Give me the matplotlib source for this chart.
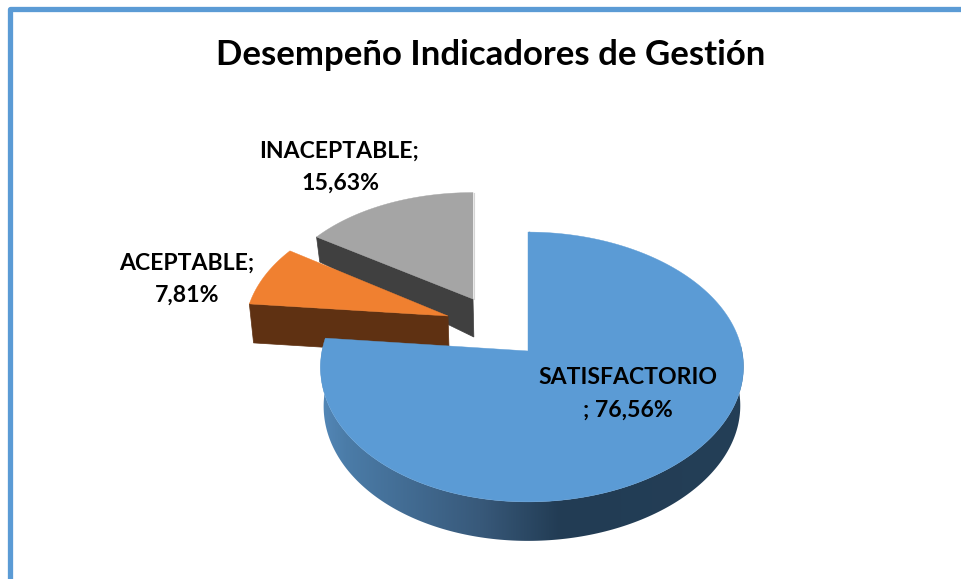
import numpy as np
import matplotlib
matplotlib.use("Agg")
import matplotlib.pyplot as plt
from matplotlib.colors import LinearSegmentedColormap, to_rgb
from matplotlib.patches import Polygon

# Data
titulo = "Desempeño Indicadores de Gestión"
categorias = ["SATISFACTORIO", "ACEPTABLE", "INACEPTABLE"]
valores = [76.56, 7.81, 15.63]
etiquetas_cat = ["SATISFACTORIO", "ACEPTABLE;", "INACEPTABLE;"]

# Style and layout
top_col = ["#5B9BD5", "#F08030", "#A5A5A5"]
side_col = [None, "#5F3112", "#404040"]
apex = [(528, 351), (448, 316), (473, 299)]
scale = [(1.0, 1.0), (0.98, 0.94), (0.97, 0.895)]
A, B, K, SK = 210.0, 133.0, 0.1185, 0.019
CX = 530.0
FONT = "Lato"
W, H = 962, 579


def proj(theta, r, i):
    """Project a disc point (clockwise angle from 12 o'clock) to the picture."""
    ax0, ay0 = apex[i]
    sx, sy = scale[i]
    u, v = r * np.sin(theta), r * np.cos(theta)
    d = 1 + K * v
    return ax0 + sx * A * u * (1 + SK * u) / d, ay0 - sy * B * v / d


def lower(x, y):
    """Point on the lower face under a point of the top face."""
    x, y = np.asarray(x, float), np.asarray(y, float)
    depth = np.clip(25 + (y - 237) * 0.21, 25, 39)
    return CX + (x - CX) * 0.985, y + depth


fig = plt.figure(figsize=(W / 100, H / 100), dpi=100)
ax = fig.add_axes([0, 0, 1, 1])

# Frame
ax.plot([10.5, 10.5, W + 5], [H + 5, 8.5, 8.5], color="#5B9BD5", lw=3.8,
        solid_joinstyle="round", zorder=1)

fr = np.array(valores) / sum(valores)
edges = np.concatenate([[0], np.cumsum(fr)]) * 2 * np.pi

grad_x = [320, 345, 480, 560, 745]
grad_c = ["#5488B8", "#4B7CA8", "#38597A", "#223C54", "#243F57"]
cmap = LinearSegmentedColormap.from_list(
    "lado", [((gx - grad_x[0]) / (grad_x[-1] - grad_x[0]), to_rgb(c)) for gx, c in zip(grad_x, grad_c)])

# Back to front: gray, orange, blue
for i in [2, 1, 0]:
    t = np.linspace(edges[i], edges[i + 1], max(int(np.degrees(edges[i + 1] - edges[i])) + 2, 3))
    x, y = proj(t, 1.0, i)
    a = apex[i]
    z = 5 + (2 - i) * 2
    if i == 0:
        keep = y > 345
        xk, yk = x[keep], y[keep]
        xl, yl = lower(xk, yk)
        poly = Polygon(np.c_[np.r_[xk, xl[::-1]], np.r_[yk, yl[::-1]]], closed=True,
                       transform=ax.transData, fc="none", ec="none")
        ax.add_patch(poly)
        im = ax.imshow(np.linspace(0, 1, 512)[None, :], cmap=cmap, aspect="auto",
                       extent=[grad_x[0], grad_x[-1], H, 0], zorder=z, interpolation="bilinear")
        im.set_clip_path(poly)
        ax.plot([a[0] + 1.5, x[0] + 1.5], [a[1], y[0]], color="#3D6A94", lw=1.0, zorder=z)
    else:
        ex, ey = x[0], y[0]
        lx, ly = lower(np.array([a[0], ex]), np.array([a[1], ey]))
        ax.fill([a[0], ex, lx[1], lx[0]], [a[1], ey, ly[1], ly[0]],
                color=side_col[i], lw=0.5, zorder=z)
        if i == 2:
            ax.plot([a[0] + 1, x[-1] + 1], [a[1], y[-1]], color="#D4D4D4", lw=0.8, zorder=z)
    ax.fill(np.r_[a[0], x], np.r_[a[1], y], color=top_col[i], lw=0.3, zorder=z + 1)

# Text
txt = dict(family=FONT, weight="bold", color="black", ha="center", va="center", zorder=20)
ax.text(491, 55, titulo, fontsize=25, **txt)


def pct(v):
    return f"{v:.2f}%".replace(".", ",")


LS = 16.6
ax.text(628, 377, etiquetas_cat[0], fontsize=LS, **txt)
ax.text(628, 410, "; " + pct(valores[0]), fontsize=LS, **txt)
ax.text(187, 263, etiquetas_cat[1], fontsize=LS, **txt)
ax.text(187, 295, pct(valores[1]), fontsize=LS, **txt)
ax.text(339, 151, etiquetas_cat[2], fontsize=LS, **txt)
ax.text(340, 183, pct(valores[2]), fontsize=LS, **txt)

ax.set_xlim(0, W)
ax.set_ylim(H, 0)
ax.axis("off")

fig.savefig("out.png", dpi=100)
